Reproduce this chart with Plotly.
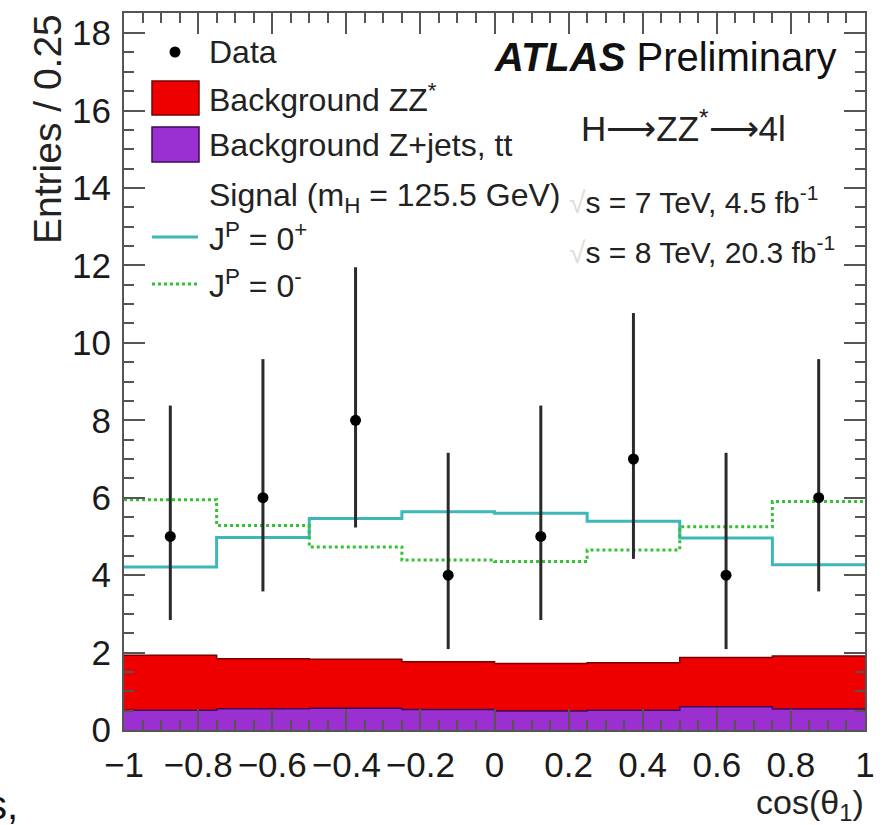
import plotly.graph_objects as go

# cos(theta_1) binning: 8 bins of width 0.25
bin_edges = [-1.0, -0.75, -0.5, -0.25, 0.0, 0.25, 0.5, 0.75, 1.0]
bin_centers = [-0.875, -0.625, -0.375, -0.125, 0.125, 0.375, 0.625, 0.875]

# Observed events with asymmetric Poisson errors
data_counts = [5, 6, 8, 4, 5, 7, 4, 6]
data_err_up = [3.38, 3.58, 3.95, 3.16, 3.38, 3.77, 3.16, 3.58]
data_err_dn = [2.16, 2.42, 2.77, 1.91, 2.16, 2.58, 1.91, 2.42]

# Stacked backgrounds (cumulative totals)
bkg_total = [1.93, 1.84, 1.83, 1.76, 1.72, 1.74, 1.87, 1.91]   # ZZ* + Z+jets,tt
bkg_zjets = [0.51, 0.55, 0.56, 0.53, 0.49, 0.51, 0.60, 0.54]   # Z+jets, tt

# Signal + background expectations for the two spin-parity hypotheses
exp_0plus = [4.21, 4.97, 5.46, 5.64, 5.60, 5.39, 4.96, 4.27]
exp_0minus = [5.95, 5.28, 4.73, 4.39, 4.35, 4.65, 5.25, 5.90]

x_ticks = [-1, -0.8, -0.6, -0.4, -0.2, 0, 0.2, 0.4, 0.6, 0.8, 1]
y_ticks = [0, 2, 4, 6, 8, 10, 12, 14, 16, 18]

FONT = "Liberation Sans, Arial, Helvetica, sans-serif"
RED = "#ee0000"
PURPLE = "#9a30d0"
CYAN = "#3db7b9"
GREEN = "#33c233"

W, H = 889, 825
M_L, M_R, M_T, M_B = 124, 24, 13, 95
PW, PH = W - M_L - M_R, H - M_T - M_B


def px(x):
    return (x - M_L) / PW


def py(y):
    return (H - M_B - y) / PH


def steps(vals):
    return vals + [vals[-1]]


fig = go.Figure()

fig.add_trace(go.Scatter(
    x=bin_edges, y=steps(bkg_total), mode="lines", line_shape="hv",
    fill="tozeroy", fillcolor=RED, line=dict(color="#7a0000", width=1.5),
    showlegend=False, hoverinfo="skip"))
fig.add_trace(go.Scatter(
    x=bin_edges, y=steps(bkg_zjets), mode="lines", line_shape="hv",
    fill="tozeroy", fillcolor=PURPLE, line=dict(color="#3c0a5c", width=1.5),
    showlegend=False, hoverinfo="skip"))
fig.add_trace(go.Scatter(
    x=bin_edges, y=steps(exp_0plus), mode="lines", line_shape="hv",
    line=dict(color=CYAN, width=3), showlegend=False))
fig.add_trace(go.Scatter(
    x=bin_edges, y=steps(exp_0minus), mode="lines", line_shape="hv",
    line=dict(color=GREEN, width=3, dash="dot"), showlegend=False))
fig.add_trace(go.Scatter(
    x=bin_centers, y=data_counts, mode="markers",
    marker=dict(color="black", size=11),
    error_y=dict(type="data", symmetric=False, array=data_err_up,
                 arrayminus=data_err_dn, color="#2a2a2a", thickness=3, width=0),
    showlegend=False))

axis_common = dict(
    showline=True, mirror="ticks", linecolor="#555", linewidth=2,
    ticks="inside", ticklen=21, tickwidth=2, tickcolor="#555",
    showgrid=False, zeroline=False,
    tickfont=dict(family=FONT, size=35, color="#1a1a1a"),
)

fig.update_xaxes(
    range=[-1, 1], tickvals=x_ticks, tickangle=0,
    minor=dict(dtick=0.05, ticks="inside", ticklen=10, tickwidth=2,
               tickcolor="#555", showgrid=False),
    ticklabelstandoff=3,
    **axis_common)
fig.update_yaxes(
    range=[0, 18.52], tickvals=y_ticks,
    minor=dict(dtick=0.5, ticks="inside", ticklen=10, tickwidth=2,
               tickcolor="#555", showgrid=False),
    ticklabelstandoff=4,
    **axis_common)

shapes = []
annotations = []

# Legend block
LEG_TEXT_X = 207
leg_font = dict(family=FONT, size=32, color="#222")
shapes.append(dict(type="circle", xref="paper", yref="paper",
                   x0=px(169.5), x1=px(180.5), y0=py(57.5), y1=py(46.5),
                   fillcolor="black", line=dict(color="black", width=0)))
shapes.append(dict(type="rect", xref="paper", yref="paper",
                   x0=px(152), x1=px(199), y0=py(115), y1=py(81),
                   fillcolor=RED, line=dict(color="#7a0000", width=1.5)))
shapes.append(dict(type="rect", xref="paper", yref="paper",
                   x0=px(152), x1=px(199), y0=py(162), y1=py(127),
                   fillcolor=PURPLE, line=dict(color="#3c0a5c", width=1.5)))
shapes.append(dict(type="line", xref="paper", yref="paper",
                   x0=px(152), x1=px(198), y0=py(237), y1=py(237),
                   line=dict(color=CYAN, width=3)))
shapes.append(dict(type="line", xref="paper", yref="paper",
                   x0=px(152), x1=px(198), y0=py(284), y1=py(284),
                   line=dict(color=GREEN, width=3, dash="dot")))

legend_rows = [
    ("Data", 52),
    ("Background ZZ<sup>*</sup>", 98),
    ("Background Z+jets, tt", 145),
    ("Signal (m<sub>H</sub> = 125.5 GeV)", 198),
    ("J<sup>P</sup> = 0<sup>+</sup>", 237),
    ("J<sup>P</sup> = 0<sup>-</sup>", 284),
]
for txt, yc in legend_rows:
    annotations.append(dict(text=txt, xref="paper", yref="paper",
                            x=px(LEG_TEXT_X), y=py(yc), xanchor="left",
                            yanchor="middle", showarrow=False, font=leg_font))

# Experiment labels
annotations.append(dict(
    text="<b><i>ATLAS</i></b> Preliminary", xref="paper", yref="paper",
    x=px(839), y=py(57), xanchor="right", yanchor="middle", showarrow=False,
    font=dict(family=FONT, size=40, color="#111")))
annotations.append(dict(
    text="H⟶ZZ<sup>*</sup>⟶4l", xref="paper", yref="paper",
    x=px(788), y=py(126), xanchor="right", yanchor="middle", showarrow=False,
    font=dict(family=FONT, size=35, color="#222")))
for txt, yc in [("s = 7 TeV, 4.5 fb<sup>-1</sup>", 200),
                ("s = 8 TeV, 20.3 fb<sup>-1</sup>", 250)]:
    annotations.append(dict(
        text='<span style="color:#dddddd">√</span>' + txt,
        xref="paper", yref="paper", x=px(567), y=py(yc), xanchor="left",
        yanchor="middle", showarrow=False,
        font=dict(family=FONT, size=30, color="#222")))

# Axis titles
annotations.append(dict(
    text="Entries / 0.25", xref="paper", yref="paper",
    x=px(48), y=py(12), xanchor="center", yanchor="top", textangle=-90,
    showarrow=False, font=dict(family=FONT, size=39, color="#222")))
annotations.append(dict(
    text="cos(θ<sub>1</sub>)", xref="paper", yref="paper",
    x=px(866), y=py(804), xanchor="right", yanchor="middle",
    showarrow=False, font=dict(family=FONT, size=34, color="#222")))
annotations.append(dict(
    text="s,", xref="paper", yref="paper",
    x=px(20), y=py(805), xanchor="right", yanchor="middle",
    showarrow=False, font=dict(family=FONT, size=40, color="#111")))

fig.update_layout(
    width=W, height=H,
    margin=dict(l=M_L, r=M_R, t=M_T, b=M_B),
    paper_bgcolor="white", plot_bgcolor="white",
    font=dict(family=FONT, color="#222"),
    shapes=shapes, annotations=annotations, showlegend=False,
)

fig.write_html("out.html")
